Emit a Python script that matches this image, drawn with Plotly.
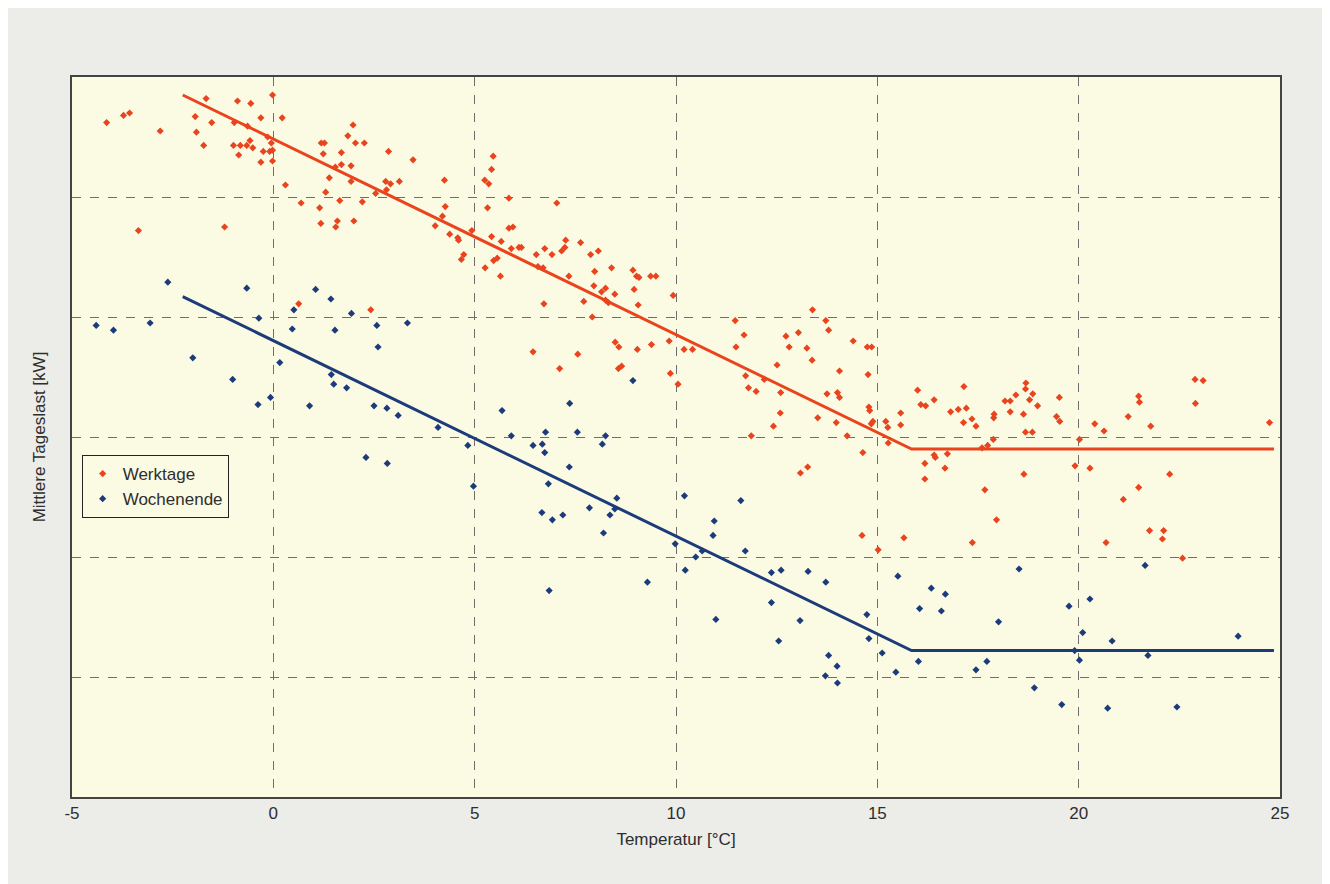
import plotly.graph_objects as go

# Werktage (working days): temperature [°C] and mean daily load
werktage_temp = [
    -4.14, -3.72, -3.57, -2.81, -1.67, -1.94, -1.91, -1.53, -1.73, -0.89, -0.56, -0.02, -0.31, 0.22,
    -0.97, -0.64, -0.99, -0.82, -0.66, -0.51, -0.58, -0.86, -0.31, -0.25, -0.09, -0.02, -0.02, -0.14,
    -0.05, 0.30, 0.69, 1.19, 1.27, 1.24, 1.98, 1.85, 2.04, 2.26, 1.69, 1.54, 1.69, 1.93, 1.39, 1.93,
    1.30, 1.65, 1.15, 1.18, 1.59, 1.55, 2.00, 2.21, 2.54, 2.79, 2.91, 3.13, 2.81, 2.86, 3.47, 4.25,
    4.27, 4.20, 4.02, 4.38, -3.35, -1.21, 0.63, 2.42,
    4.58, 4.60, 4.67, 4.73, 4.93, 5.26, 5.32, 5.25, 5.35, 5.42, 5.46, 5.42, 5.47, 5.56, 5.64, 5.66,
    5.85, 5.85, 5.95, 5.91, 6.10, 6.16, 6.45, 6.53, 6.57, 6.70, 6.72, 6.74, 6.92, 7.04, 7.11, 7.16,
    7.24, 7.26, 7.34, 7.56, 7.63, 7.71, 7.88, 7.92, 7.98, 7.96, 8.07, 8.15, 8.25, 8.25, 8.32, 8.40,
    8.48, 8.49, 8.58, 8.57, 8.65, 8.93, 8.96, 9.02, 9.08, 9.06, 9.04, 9.37, 9.50, 9.39, 9.83, 9.86,
    9.93, 10.05, 10.20, 10.41, 11.47, 11.49, 11.69, 11.73, 11.80, 11.99, 12.19, 12.51, 12.59, 12.60,
    12.73, 12.81, 13.04, 13.25, 13.38, 13.39, 13.52, 13.72, 13.75, 13.79, 14.01, 14.06, 14.06, 14.40,
    14.75, 14.86,
    12.42, 13.98, 14.25, 11.87, 13.09, 13.27,
    14.77, 14.79, 14.81, 14.85, 14.89, 14.64, 14.62, 15.02, 15.21, 15.26, 15.27, 15.58, 15.58, 15.66,
    16.00, 16.08, 16.20, 16.41, 16.18, 16.18, 16.41, 16.44, 16.68, 16.74, 16.82, 17.01, 17.15, 17.21,
    17.14, 17.35, 17.45, 17.36, 17.60, 17.67, 17.74, 17.88, 17.89, 17.90, 17.96, 18.17, 18.30, 18.30,
    18.44, 18.63, 18.68, 18.85, 18.64, 18.69, 18.68, 18.86, 18.78, 18.98, 19.52, 19.45, 19.53, 19.91,
    20.02, 20.28, 20.40, 20.63, 20.68, 21.11, 21.23, 21.49, 21.51, 21.49, 21.79, 21.76, 22.11, 22.08,
    22.26, 22.58, 22.89, 23.09, 22.90, 24.74,
]
werktage_last = [
    5.62, 5.68, 5.70, 5.55, 5.82, 5.67, 5.54, 5.62, 5.43, 5.80, 5.78, 5.85, 5.66, 5.66,
    5.62, 5.59, 5.43, 5.43, 5.43, 5.41, 5.47, 5.35, 5.29, 5.38, 5.38, 5.39, 5.30, 5.50,
    5.45, 5.10, 4.95, 5.45, 5.45, 5.36, 5.60, 5.51, 5.45, 5.45, 5.37, 5.25, 5.27, 5.26, 5.16, 5.13,
    5.04, 4.97, 4.91, 4.78, 4.80, 4.75, 4.80, 4.96, 5.03, 5.13, 5.11, 5.13, 5.06, 5.38, 5.31, 5.14,
    4.92, 4.84, 4.76, 4.69, 4.72, 4.75, 4.11, 4.06,
    4.66, 4.64, 4.48, 4.52, 4.72, 4.41, 4.91, 5.14, 5.11, 5.23, 5.34, 4.67, 4.47, 4.49, 4.34, 4.63,
    4.99, 4.74, 4.75, 4.57, 4.58, 4.58, 3.71, 4.52, 4.42, 4.41, 4.11, 4.57, 4.52, 4.95, 3.57, 4.55,
    4.58, 4.64, 4.34, 3.69, 4.62, 4.13, 4.52, 4.00, 4.38, 4.26, 4.55, 4.21, 4.24, 4.14, 4.12, 4.41,
    4.19, 3.79, 3.75, 3.57, 3.59, 4.39, 4.23, 4.34, 4.33, 4.10, 3.73, 4.34, 4.34, 3.77, 3.80, 3.53,
    4.18, 3.44, 3.73, 3.73, 3.97, 3.75, 3.85, 3.51, 3.41, 3.38, 3.48, 3.60, 3.20, 3.37,
    3.84, 3.75, 3.87, 3.74, 3.64, 4.06, 3.16, 3.97, 3.36, 3.89, 3.37, 3.55, 3.33, 3.80,
    3.75, 3.75,
    3.09, 3.12, 3.01, 3.01, 2.70, 2.75,
    3.52, 3.25, 3.22, 3.11, 3.13, 2.87, 2.18, 2.06, 3.13, 3.08, 2.95, 3.20, 3.10, 2.16,
    3.39, 3.27, 3.26, 3.31, 2.78, 2.65, 2.85, 2.83, 2.74, 2.86, 3.21, 3.23, 3.42, 3.24,
    3.12, 3.15, 3.09, 2.12, 2.91, 2.56, 2.93, 2.98, 3.16, 3.19, 2.31, 3.30, 3.30, 3.21,
    3.35, 3.19, 3.04, 3.04, 2.69, 3.45, 3.40, 3.36, 3.31, 3.26, 3.33, 3.17, 3.13, 2.76,
    2.98, 2.74, 3.11, 3.05, 2.12, 2.48, 3.17, 3.34, 3.29, 2.58, 3.09, 2.22, 2.22, 2.15,
    2.69, 1.99, 3.48, 3.47, 3.28, 3.12,
]

# Wochenende (weekend)
wochenende_temp = [
    -2.62, -0.66, 1.05, 1.43,
    -4.40, -3.97, -3.06, -2.00, -1.01, -0.38, -0.36, -0.07, 0.16, 0.47, 0.51, 0.90, 1.44, 1.50,
    1.53, 1.82, 1.94, 2.30, 2.50, 2.57, 2.60, 2.82, 2.83, 3.10, 3.33, 4.09,
    5.68, 7.36, 8.93,
    4.83, 4.97, 5.91, 6.45, 6.68, 6.76, 6.74, 7.35, 7.55, 8.17, 8.25, 6.83, 6.67, 6.93, 7.19, 7.85,
    8.20, 8.36, 8.48, 8.53, 6.85, 9.29, 9.98, 10.21, 10.23, 10.49, 10.65, 10.95, 10.92, 10.99, 11.61,
    11.72, 12.37, 12.37, 12.61, 12.55, 13.08, 13.28, 13.72, 13.79, 13.71, 14.00, 14.01,
    14.74, 14.79, 15.12, 15.46, 15.51, 16.02, 16.05, 16.34, 16.59, 16.69, 17.45, 17.72, 18.01, 18.52,
    18.90, 19.76, 19.90, 20.02, 20.10, 20.28, 20.83, 21.65, 21.72, 23.96,
    19.58, 20.72, 22.44,
]
wochenende_last = [
    4.29, 4.24, 4.23, 4.15,
    3.93, 3.89, 3.95, 3.66, 3.48, 3.27, 3.99, 3.33, 3.62, 3.90, 4.06, 3.26, 3.52, 3.44,
    3.89, 3.41, 4.03, 2.83, 3.26, 3.93, 3.75, 3.24, 2.78, 3.18, 3.95, 3.08,
    3.22, 3.28, 3.47,
    2.93, 2.59, 3.01, 2.93, 2.94, 3.04, 2.87, 2.75, 3.04, 2.94, 3.01, 2.61, 2.37, 2.31, 2.35, 2.41,
    2.20, 2.35, 2.40, 2.49, 1.72, 1.79, 2.11, 2.51, 1.89, 2.00, 2.05, 2.30, 2.18, 1.48, 2.47,
    2.05, 1.87, 1.62, 1.89, 1.30, 1.47, 1.88, 1.79, 1.18, 1.01, 1.09, 0.95,
    1.52, 1.32, 1.20, 1.04, 1.84, 1.13, 1.57, 1.74, 1.55, 1.69, 1.06, 1.13, 1.46, 1.90,
    0.91, 1.59, 1.22, 1.14, 1.37, 1.65, 1.30, 1.93, 1.18, 1.34,
    0.77, 0.74, 0.75,
]

# Piecewise regression lines
line_temp = [-2.25, 15.85, 24.85]
werktage_fit = [5.85, 2.90, 2.90]
wochenende_fit = [4.17, 1.22, 1.22]

x_ticks = [-5, 0, 5, 10, 15, 20, 25]
y_grid = [1, 2, 3, 4, 5]

RED = "#e9441d"
BLUE = "#1c3b7a"
FONT = "Liberation Sans, Arial, sans-serif"
TXT = "#2e2e2e"

fig = go.Figure()
fig.add_trace(go.Scatter(x=line_temp, y=werktage_fit, mode="lines",
                         line=dict(color=RED, width=3), showlegend=False, hoverinfo="skip"))
fig.add_trace(go.Scatter(x=line_temp, y=wochenende_fit, mode="lines",
                         line=dict(color=BLUE, width=3), showlegend=False, hoverinfo="skip"))
fig.add_trace(go.Scatter(x=werktage_temp, y=werktage_last, mode="markers", name="Werktage",
                         marker=dict(symbol="diamond", size=5.5, color=RED)))
fig.add_trace(go.Scatter(x=wochenende_temp, y=wochenende_last, mode="markers", name="Wochenende",
                         marker=dict(symbol="diamond", size=5.5, color=BLUE)))

fig.update_layout(
    width=1330, height=884,
    margin=dict(l=64, r=58, t=69, b=95),
    paper_bgcolor="#ecece8",
    plot_bgcolor="#fbfbe4",
    font=dict(family=FONT, size=17, color=TXT),
    showlegend=True,
    legend=dict(x=0.008, y=0.475, xanchor="left", yanchor="top",
                bgcolor="#fbfbe4", bordercolor="#222222", borderwidth=1,
                font=dict(size=17, color=TXT), itemwidth=30,
                tracegroupgap=0),
    xaxis=dict(range=[-5, 25], tickvals=x_ticks, ticktext=[str(v) for v in x_ticks],
               showgrid=True, gridcolor="#6e6e6e", griddash="dash", gridwidth=1,
               zeroline=False, showline=True, linecolor="#444444", linewidth=1.5, mirror=True,
               ticks="", tickfont=dict(size=17, color=TXT),
               title=dict(text="Temperatur [°C]", standoff=11,
                          font=dict(size=17, color=TXT))),
    yaxis=dict(range=[0, 6], tickvals=y_grid, showticklabels=False,
               showgrid=True, gridcolor="#6e6e6e", griddash="dash", gridwidth=1,
               zeroline=False, showline=True, linecolor="#444444", linewidth=1.5, mirror=True,
               ticks="", title=dict(text="Mittlere Tageslast [kW]", standoff=20,
                                    font=dict(size=17, color=TXT))),
)

fig.write_html("out.html")
